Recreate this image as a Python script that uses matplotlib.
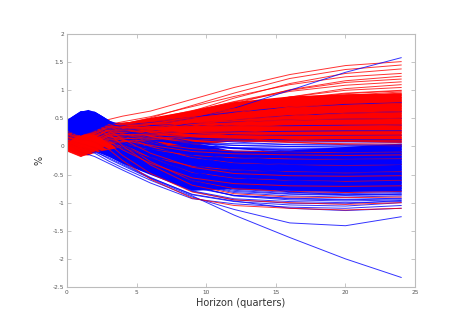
import numpy as np
import matplotlib
matplotlib.use("Agg")
import matplotlib.pyplot as plt

plt.rcParams['axes.unicode_minus'] = False

horizons = [0, 1, 2, 3, 4, 6, 9, 12, 16, 20, 24]

# where the paths are so packed they form a solid band
core_horizons = [0, 0.5, 1, 1.5, 2, 2.5, 3, 4, 6, 9, 12, 16, 20, 24]
blue_core_low = [0.05, 0.03, 0.00, -0.04, -0.08, -0.13, -0.18, -0.30, -0.50, -0.78, -0.75, -0.78, -0.80, -0.78]
blue_core_high = [0.47, 0.56, 0.63, 0.66, 0.62, 0.55, 0.47, 0.37, 0.22, 0.08, -0.08, -0.06, 0.00, 0.06]
red_core_low = [-0.03, -0.10, -0.15, -0.15, -0.10, -0.07, -0.05, 0.00, 0.03, 0.03, 0.10, 0.10, 0.09, 0.08]
red_core_high = [0.20, 0.14, 0.10, 0.13, 0.20, 0.28, 0.35, 0.42, 0.52, 0.65, 0.80, 0.90, 0.94, 0.95]

blue_paths = [
    [0.05, -0.10, -0.18, -0.30, -0.42, -0.65, -0.93, -1.02, -1.08, -1.10, -1.05],
    [0.08, -0.05, -0.12, -0.26, -0.38, -0.60, -0.90, -1.12, -1.36, -1.41, -1.25],
    [0.10, 0.00, -0.08, -0.22, -0.34, -0.57, -0.88, -1.22, -1.62, -2.00, -2.33],
    [0.12, 0.05, -0.02, -0.16, -0.30, -0.55, -0.86, -0.98, -1.04, -1.06, -1.00],
    [0.15, 0.15, 0.08, -0.06, -0.20, -0.47, -0.80, -0.95, -1.01, -1.02, -0.96],
    [0.06, -0.02, -0.10, -0.20, -0.32, -0.56, -0.85, -0.97, -1.10, -1.14, -1.10],
    [0.10, 0.26, 0.25, 0.10, -0.12, -0.44, -0.79, -0.93, -0.98, -1.00, -0.98],
    [0.15, 0.31, 0.30, 0.15, -0.06, -0.39, -0.73, -0.87, -0.92, -0.94, -0.92],
    [0.42, 0.58, 0.57, 0.42, 0.15, -0.27, -0.70, -0.88, -0.95, -0.97, -0.95],
    [0.30, 0.46, 0.45, 0.30, 0.06, -0.29, -0.67, -0.82, -0.88, -0.90, -0.88],
    [0.20, 0.36, 0.35, 0.20, -0.01, -0.33, -0.66, -0.80, -0.85, -0.87, -0.85],
    [0.38, 0.54, 0.53, 0.38, 0.14, -0.22, -0.60, -0.76, -0.82, -0.84, -0.82],
    [0.12, 0.28, 0.27, 0.12, -0.06, -0.34, -0.63, -0.75, -0.80, -0.82, -0.80],
    [0.45, 0.61, 0.60, 0.45, 0.20, -0.17, -0.56, -0.72, -0.78, -0.80, -0.78],
    [0.25, 0.41, 0.40, 0.25, 0.05, -0.25, -0.57, -0.70, -0.75, -0.77, -0.75],
    [0.35, 0.51, 0.50, 0.35, 0.14, -0.19, -0.53, -0.67, -0.72, -0.74, -0.72],
    [0.18, 0.34, 0.33, 0.18, 0.00, -0.26, -0.54, -0.66, -0.70, -0.72, -0.70],
    [0.40, 0.56, 0.55, 0.40, 0.19, -0.13, -0.47, -0.61, -0.66, -0.68, -0.66],
    [0.28, 0.44, 0.43, 0.28, 0.10, -0.18, -0.47, -0.58, -0.63, -0.65, -0.63],
    [0.08, 0.24, 0.23, 0.08, -0.06, -0.26, -0.48, -0.57, -0.60, -0.62, -0.60],
    [0.44, 0.60, 0.59, 0.44, 0.24, -0.07, -0.39, -0.52, -0.57, -0.59, -0.57],
    [0.22, 0.38, 0.37, 0.22, 0.07, -0.16, -0.40, -0.50, -0.54, -0.56, -0.54],
    [0.33, 0.49, 0.48, 0.33, 0.16, -0.09, -0.36, -0.47, -0.51, -0.53, -0.51],
    [0.14, 0.30, 0.29, 0.14, 0.02, -0.17, -0.37, -0.45, -0.48, -0.50, -0.48],
    [0.46, 0.62, 0.61, 0.46, 0.28, 0.01, -0.29, -0.40, -0.45, -0.47, -0.45],
    [0.26, 0.42, 0.41, 0.26, 0.12, -0.08, -0.30, -0.39, -0.42, -0.44, -0.42],
    [0.37, 0.53, 0.52, 0.37, 0.22, -0.01, -0.25, -0.35, -0.39, -0.41, -0.39],
    [0.10, 0.26, 0.25, 0.10, 0.01, -0.13, -0.28, -0.34, -0.36, -0.38, -0.36],
    [0.41, 0.57, 0.56, 0.41, 0.26, 0.04, -0.20, -0.29, -0.33, -0.35, -0.33],
    [0.20, 0.36, 0.35, 0.20, 0.10, -0.05, -0.21, -0.28, -0.30, -0.32, -0.30],
    [0.31, 0.47, 0.46, 0.31, 0.19, 0.02, -0.17, -0.24, -0.27, -0.29, -0.27],
    [0.44, 0.60, 0.59, 0.44, 0.30, 0.10, -0.12, -0.21, -0.24, -0.26, -0.24],
    [0.16, 0.32, 0.31, 0.16, 0.09, -0.03, -0.14, -0.19, -0.21, -0.23, -0.21],
    [0.36, 0.52, 0.51, 0.36, 0.25, 0.09, -0.08, -0.15, -0.18, -0.20, -0.18],
    [0.24, 0.40, 0.39, 0.24, 0.16, 0.05, -0.08, -0.13, -0.15, -0.17, -0.15],
    [0.43, 0.59, 0.58, 0.43, 0.32, 0.16, -0.02, -0.09, -0.12, -0.13, -0.12],
    [0.12, 0.28, 0.27, 0.12, 0.08, 0.02, -0.05, -0.08, -0.09, -0.10, -0.09],
    [0.34, 0.50, 0.49, 0.34, 0.26, 0.14, 0.01, -0.04, -0.06, -0.07, -0.06],
    [0.27, 0.43, 0.42, 0.27, 0.21, 0.12, 0.02, -0.02, -0.03, -0.04, -0.03],
    [0.40, 0.56, 0.55, 0.40, 0.32, 0.20, 0.07, 0.02, 0.00, -0.01, 0.00],
    [0.19, 0.35, 0.34, 0.19, 0.16, 0.12, 0.07, 0.05, 0.04, 0.04, 0.04],
    [0.45, 0.61, 0.60, 0.45, 0.38, 0.27, 0.15, 0.10, 0.08, 0.08, 0.08],
    [0.30, 0.46, 0.45, 0.30, 0.26, 0.21, 0.15, 0.13, 0.12, 0.12, 0.12],
    [0.38, 0.54, 0.53, 0.38, 0.34, 0.29, 0.23, 0.21, 0.20, 0.20, 0.20],
    [0.22, 0.38, 0.37, 0.22, 0.22, 0.23, 0.25, 0.26, 0.27, 0.28, 0.28],
    [0.42, 0.58, 0.57, 0.42, 0.40, 0.38, 0.37, 0.37, 0.37, 0.38, 0.38],
    [0.33, 0.49, 0.48, 0.33, 0.34, 0.37, 0.41, 0.44, 0.47, 0.49, 0.50],
    [0.26, 0.42, 0.41, 0.26, 0.28, 0.33, 0.41, 0.48, 0.55, 0.59, 0.62],
    [0.36, 0.52, 0.51, 0.36, 0.38, 0.43, 0.52, 0.61, 0.70, 0.75, 0.78],
    [0.30, 0.46, 0.46, 0.36, 0.33, 0.38, 0.50, 0.68, 1.00, 1.32, 1.58],
    [0.32, 0.48, 0.47, 0.32, 0.07, -0.31, -0.71, -0.87, -0.93, -0.95, -0.93],
    [0.18, 0.34, 0.33, 0.18, 0.06, -0.16, -0.44, -0.65, -0.81, -0.86, -0.86],
    [0.46, 0.62, 0.61, 0.46, 0.20, -0.19, -0.61, -0.78, -0.84, -0.86, -0.84],
    [0.07, 0.23, 0.22, 0.07, -0.03, -0.21, -0.45, -0.62, -0.75, -0.79, -0.79],
    [0.29, 0.45, 0.44, 0.29, 0.17, -0.05, -0.33, -0.53, -0.69, -0.74, -0.74],
    [0.39, 0.55, 0.54, 0.39, 0.17, -0.15, -0.50, -0.64, -0.69, -0.70, -0.69],
    [0.13, 0.29, 0.28, 0.13, 0.04, -0.12, -0.33, -0.49, -0.60, -0.64, -0.64],
    [0.24, 0.40, 0.39, 0.24, 0.07, -0.18, -0.44, -0.55, -0.59, -0.60, -0.59],
    [0.43, 0.59, 0.58, 0.43, 0.31, 0.11, -0.16, -0.35, -0.50, -0.55, -0.55],
    [0.17, 0.33, 0.32, 0.17, 0.09, -0.05, -0.23, -0.37, -0.47, -0.50, -0.50],
    [0.35, 0.51, 0.50, 0.35, 0.19, -0.06, -0.31, -0.42, -0.46, -0.47, -0.46],
    [0.09, 0.25, 0.24, 0.09, 0.03, -0.08, -0.21, -0.31, -0.39, -0.41, -0.41],
    [0.28, 0.44, 0.43, 0.28, 0.20, 0.07, -0.11, -0.24, -0.34, -0.37, -0.37],
    [0.45, 0.61, 0.60, 0.45, 0.30, 0.07, -0.18, -0.28, -0.32, -0.33, -0.32],
    [0.21, 0.37, 0.36, 0.21, 0.15, 0.05, -0.08, -0.18, -0.26, -0.28, -0.28],
    [0.32, 0.48, 0.47, 0.32, 0.25, 0.14, -0.01, -0.12, -0.20, -0.23, -0.23],
    [0.11, 0.27, 0.26, 0.11, 0.05, -0.04, -0.14, -0.18, -0.19, -0.19, -0.19],
    [0.41, 0.57, 0.56, 0.41, 0.34, 0.23, 0.08, -0.03, -0.11, -0.14, -0.14],
    [0.23, 0.39, 0.38, 0.23, 0.19, 0.12, 0.03, -0.03, -0.08, -0.10, -0.10],
    [0.37, 0.53, 0.52, 0.37, 0.29, 0.16, 0.03, -0.03, -0.05, -0.05, -0.05],
    [0.15, 0.31, 0.30, 0.15, 0.13, 0.10, 0.05, 0.02, 0.00, -0.01, -0.01],
    [0.30, 0.46, 0.45, 0.30, 0.27, 0.21, 0.13, 0.08, 0.03, 0.02, 0.02],
]

red_paths = [
    [0.28, 0.18, 0.30, 0.48, 0.54, 0.63, 0.84, 1.05, 1.28, 1.44, 1.51],
    [0.22, 0.12, 0.22, 0.34, 0.40, 0.51, 0.73, 0.95, 1.21, 1.37, 1.45],
    [0.10, 0.00, 0.10, 0.22, 0.28, 0.39, 0.63, 0.86, 1.12, 1.30, 1.38],
    [0.27, 0.17, 0.27, 0.39, 0.44, 0.53, 0.71, 0.89, 1.10, 1.24, 1.30],
    [0.05, -0.05, 0.05, 0.17, 0.22, 0.33, 0.55, 0.76, 1.01, 1.17, 1.25],
    [0.18, 0.08, 0.18, 0.30, 0.35, 0.44, 0.62, 0.80, 1.00, 1.14, 1.20],
    [0.24, 0.14, 0.24, 0.36, 0.40, 0.48, 0.64, 0.79, 0.98, 1.09, 1.15],
    [0.00, -0.10, 0.00, 0.12, 0.17, 0.27, 0.46, 0.66, 0.88, 1.03, 1.10],
    [0.15, 0.05, 0.15, 0.27, 0.31, 0.39, 0.54, 0.70, 0.88, 1.00, 1.05],
    [0.20, 0.10, 0.20, 0.32, 0.35, 0.42, 0.56, 0.69, 0.85, 0.95, 1.00],
    [-0.05, -0.15, -0.05, 0.07, 0.12, 0.21, 0.39, 0.57, 0.77, 0.91, 0.97],
    [0.12, 0.02, 0.12, 0.24, 0.28, 0.35, 0.49, 0.63, 0.79, 0.89, 0.94],
    [0.26, 0.16, 0.26, 0.38, 0.41, 0.46, 0.57, 0.67, 0.79, 0.87, 0.91],
    [0.03, -0.07, 0.03, 0.15, 0.19, 0.26, 0.41, 0.55, 0.72, 0.83, 0.88],
    [0.17, 0.07, 0.17, 0.29, 0.32, 0.37, 0.49, 0.60, 0.73, 0.81, 0.85],
    [0.08, -0.02, 0.08, 0.20, 0.23, 0.29, 0.42, 0.54, 0.68, 0.78, 0.82],
    [0.22, 0.12, 0.22, 0.34, 0.36, 0.41, 0.50, 0.59, 0.69, 0.76, 0.79],
    [-0.08, -0.18, -0.08, 0.04, 0.08, 0.15, 0.29, 0.44, 0.60, 0.71, 0.76],
    [0.14, 0.04, 0.14, 0.26, 0.28, 0.33, 0.42, 0.52, 0.63, 0.70, 0.73],
    [0.28, 0.18, 0.28, 0.40, 0.42, 0.45, 0.51, 0.57, 0.63, 0.68, 0.70],
    [0.06, -0.04, 0.06, 0.18, 0.20, 0.25, 0.35, 0.45, 0.56, 0.64, 0.67],
    [0.19, 0.09, 0.19, 0.31, 0.33, 0.36, 0.43, 0.49, 0.57, 0.62, 0.64],
    [0.01, -0.09, 0.01, 0.13, 0.15, 0.20, 0.30, 0.39, 0.50, 0.58, 0.61],
    [0.24, 0.14, 0.24, 0.36, 0.37, 0.39, 0.44, 0.48, 0.53, 0.56, 0.58],
    [0.10, 0.00, 0.10, 0.22, 0.24, 0.27, 0.34, 0.40, 0.48, 0.53, 0.55],
    [-0.03, -0.13, -0.03, 0.09, 0.11, 0.15, 0.24, 0.33, 0.43, 0.49, 0.52],
    [0.16, 0.06, 0.16, 0.28, 0.29, 0.31, 0.35, 0.40, 0.44, 0.48, 0.49],
    [0.21, 0.11, 0.21, 0.33, 0.34, 0.35, 0.38, 0.40, 0.43, 0.45, 0.46],
    [0.04, -0.06, 0.04, 0.16, 0.17, 0.20, 0.25, 0.31, 0.37, 0.41, 0.43],
    [0.13, 0.03, 0.13, 0.25, 0.26, 0.27, 0.30, 0.33, 0.37, 0.39, 0.40],
    [0.27, 0.17, 0.27, 0.39, 0.39, 0.39, 0.38, 0.38, 0.37, 0.37, 0.37],
    [-0.06, -0.16, -0.06, 0.06, 0.07, 0.10, 0.16, 0.21, 0.28, 0.32, 0.34],
    [0.09, -0.01, 0.09, 0.21, 0.22, 0.23, 0.25, 0.27, 0.29, 0.30, 0.31],
    [0.20, 0.10, 0.20, 0.32, 0.32, 0.31, 0.31, 0.30, 0.29, 0.28, 0.28],
    [0.02, -0.08, 0.02, 0.14, 0.15, 0.16, 0.18, 0.20, 0.23, 0.24, 0.25],
    [0.15, 0.05, 0.15, 0.27, 0.27, 0.26, 0.25, 0.24, 0.23, 0.22, 0.22],
    [0.25, 0.15, 0.25, 0.37, 0.36, 0.34, 0.31, 0.27, 0.23, 0.20, 0.19],
    [0.07, -0.03, 0.07, 0.19, 0.19, 0.18, 0.18, 0.17, 0.17, 0.16, 0.16],
    [0.11, 0.01, 0.11, 0.23, 0.22, 0.21, 0.19, 0.17, 0.15, 0.14, 0.13],
    [-0.02, -0.12, -0.02, 0.10, 0.10, 0.10, 0.10, 0.10, 0.10, 0.10, 0.10],
    [0.18, 0.08, 0.18, 0.30, 0.29, 0.27, 0.22, 0.17, 0.12, 0.09, 0.07],
    [0.05, -0.05, 0.05, 0.17, 0.16, 0.15, 0.12, 0.10, 0.07, 0.05, 0.04],
    [0.23, 0.13, 0.23, 0.35, 0.33, 0.30, 0.23, 0.16, 0.08, 0.03, 0.01],
    [0.10, 0.00, 0.10, 0.22, 0.16, 0.06, -0.04, -0.08, -0.10, -0.11, -0.10],
    [0.00, -0.10, 0.00, 0.12, 0.05, -0.05, -0.16, -0.20, -0.22, -0.23, -0.22],
    [0.20, 0.10, 0.20, 0.32, 0.19, 0.00, -0.20, -0.29, -0.32, -0.34, -0.32],
    [-0.04, -0.14, -0.04, 0.08, -0.03, -0.19, -0.35, -0.42, -0.45, -0.47, -0.45],
    [0.08, -0.02, 0.08, 0.20, 0.04, -0.20, -0.46, -0.56, -0.60, -0.62, -0.60],
    [0.14, 0.04, 0.14, 0.26, 0.05, -0.27, -0.61, -0.75, -0.80, -0.82, -0.80],
    [-0.07, -0.17, -0.07, 0.05, -0.16, -0.48, -0.81, -0.95, -1.00, -1.03, -1.00],
    [0.02, -0.08, -0.05, -0.05, -0.25, -0.58, -0.92, -1.05, -1.10, -1.13, -1.10],
    [0.16, 0.06, 0.16, 0.28, 0.32, 0.39, 0.53, 0.67, 0.83, 0.94, 0.99],
    [0.04, -0.06, 0.04, 0.16, 0.20, 0.28, 0.44, 0.59, 0.78, 0.89, 0.95],
    [0.25, 0.15, 0.25, 0.37, 0.40, 0.45, 0.56, 0.67, 0.80, 0.88, 0.92],
    [-0.04, -0.14, -0.04, 0.08, 0.12, 0.20, 0.36, 0.51, 0.70, 0.81, 0.87],
    [0.11, 0.01, 0.11, 0.23, 0.26, 0.32, 0.44, 0.56, 0.70, 0.79, 0.83],
    [0.20, 0.10, 0.20, 0.32, 0.34, 0.39, 0.49, 0.58, 0.69, 0.77, 0.80],
    [0.02, -0.08, 0.02, 0.14, 0.17, 0.23, 0.36, 0.49, 0.63, 0.73, 0.77],
    [0.27, 0.17, 0.27, 0.39, 0.41, 0.44, 0.51, 0.58, 0.66, 0.72, 0.74],
    [0.09, -0.01, 0.09, 0.21, 0.24, 0.29, 0.39, 0.49, 0.60, 0.68, 0.71],
    [-0.07, -0.17, -0.07, 0.05, 0.08, 0.14, 0.27, 0.40, 0.54, 0.64, 0.68],
    [0.18, 0.08, 0.18, 0.30, 0.32, 0.35, 0.42, 0.49, 0.57, 0.63, 0.65],
    [0.06, -0.04, 0.06, 0.18, 0.20, 0.25, 0.33, 0.42, 0.52, 0.59, 0.62],
    [0.23, 0.13, 0.23, 0.35, 0.36, 0.39, 0.43, 0.48, 0.54, 0.57, 0.59],
    [-0.01, -0.11, -0.01, 0.11, 0.13, 0.18, 0.27, 0.36, 0.46, 0.53, 0.56],
    [0.14, 0.04, 0.14, 0.26, 0.27, 0.30, 0.35, 0.41, 0.47, 0.51, 0.53],
    [0.26, 0.16, 0.26, 0.38, 0.39, 0.40, 0.42, 0.45, 0.47, 0.49, 0.50],
    [0.03, -0.07, 0.03, 0.15, 0.17, 0.20, 0.26, 0.33, 0.40, 0.45, 0.47],
    [0.12, 0.02, 0.12, 0.24, 0.25, 0.27, 0.31, 0.35, 0.40, 0.43, 0.44],
    [0.19, 0.09, 0.19, 0.31, 0.31, 0.32, 0.35, 0.37, 0.39, 0.40, 0.41],
    [-0.05, -0.15, -0.05, 0.07, 0.09, 0.12, 0.18, 0.24, 0.31, 0.36, 0.38],
    [0.08, -0.02, 0.08, 0.20, 0.21, 0.22, 0.25, 0.28, 0.32, 0.34, 0.35],
    [0.22, 0.12, 0.22, 0.34, 0.34, 0.34, 0.33, 0.33, 0.33, 0.32, 0.32],
    [0.01, -0.09, 0.01, 0.13, 0.14, 0.15, 0.18, 0.20, 0.23, 0.25, 0.26],
    [0.17, 0.07, 0.17, 0.29, 0.28, 0.27, 0.25, 0.23, 0.22, 0.21, 0.20],
    [0.09, -0.01, 0.09, 0.21, 0.21, 0.20, 0.19, 0.17, 0.16, 0.15, 0.14],
    [0.24, 0.14, 0.24, 0.36, 0.34, 0.31, 0.25, 0.19, 0.13, 0.10, 0.08],
    [0.06, -0.04, 0.06, 0.18, 0.11, 0.02, -0.09, -0.13, -0.15, -0.16, -0.15],
    [0.17, 0.07, 0.17, 0.29, 0.13, -0.12, -0.37, -0.48, -0.52, -0.53, -0.52],
    [-0.02, -0.12, -0.02, 0.10, -0.06, -0.30, -0.56, -0.66, -0.70, -0.71, -0.70],
    [0.12, 0.02, 0.12, 0.24, 0.01, -0.33, -0.69, -0.84, -0.90, -0.91, -0.90],
]

xticks = [0, 5, 10, 15, 20, 25]
yticks = [-2.5, -2, -1.5, -1, -0.5, 0, 0.5, 1, 1.5, 2]
ytick_labels = ["-2.5", "-2", "-1.5", "-1", "-0.5", "0", "0.5", "1", "1.5", "2"]

fig = plt.figure(figsize=(4.68, 3.31), dpi=100)
ax = fig.add_axes([0.143, 0.133, 0.744, 0.764])

# solid cores first, then the single paths on top
ax.fill_between(core_horizons, blue_core_low, blue_core_high, color=(0, 0, 1), lw=0, zorder=1)
ax.fill_between(core_horizons, red_core_low, red_core_high, color=(1, 0, 0), lw=0, zorder=1.1)

# draw the two groups interleaved so neither sits fully on top
n = max(len(blue_paths), len(red_paths))
for i in range(n):
    if i < len(blue_paths):
        ax.plot(horizons, blue_paths[i], color=(0, 0, 1), lw=0.7, alpha=0.8, zorder=2)
    if i < len(red_paths):
        ax.plot(horizons, red_paths[i], color=(1, 0, 0), lw=0.7, alpha=0.8, zorder=2)

ax.set_xlim(0, 25)
ax.set_ylim(-2.5, 2)
ax.set_xticks(xticks)
ax.set_xticklabels([str(t) for t in xticks])
ax.set_yticks(yticks)
ax.set_yticklabels(ytick_labels)

grey = "#bcbcbc"
for s in ax.spines.values():
    s.set_color(grey)
    s.set_linewidth(0.8)
ax.tick_params(direction="in", top=True, right=True, length=3, width=0.6,
               color=grey, labelsize=4.2, labelcolor="#555555", pad=2)

ax.set_xlabel("Horizon (quarters)", fontsize=7, color="#333333", labelpad=2)
ax.set_ylabel("%", fontsize=7, color="#333333", labelpad=6)

fig.savefig("out.png", dpi=100)
